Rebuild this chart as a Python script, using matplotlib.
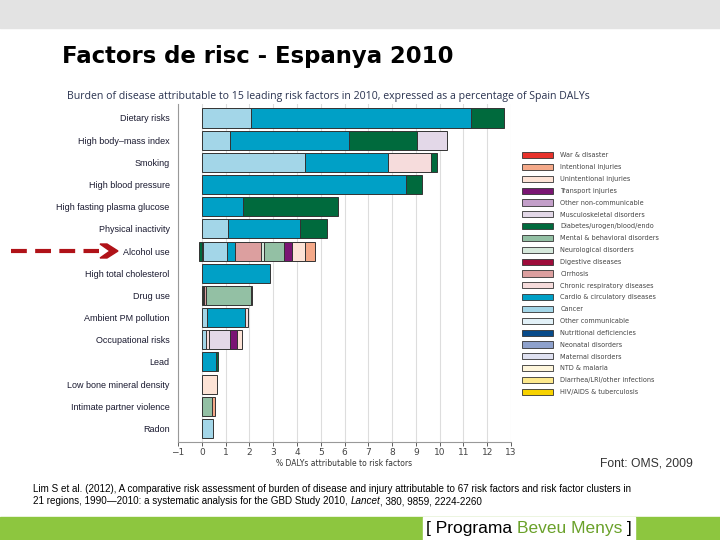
import matplotlib
matplotlib.use("Agg")
import matplotlib.pyplot as plt
from matplotlib.patches import Patch, Rectangle, Polygon
from matplotlib.lines import Line2D

W, H = 720, 540


def px(x, y):
    # pixel coords (from top-left) to figure fraction
    return x / W, 1 - y / H


# risk factors, top to bottom
risks = ["Dietary risks", "High body\u2013mass index", "Smoking", "High blood pressure",
         "High fasting plasma glucose", "Physical inactivity", "Alcohol use",
         "High total cholesterol", "Drug use", "Ambient PM pollution", "Occupational risks",
         "Lead", "Low bone mineral density", "Intimate partner violence", "Radon"]

# causes in legend order (top to bottom) and their colours
causes = ["War & disaster", "Intentional injuries", "Unintentional injuries", "Transport injuries",
          "Other non-communicable", "Musculoskeletal disorders", "Diabetes/urogen/blood/endo",
          "Mental & behavioral disorders", "Neurological disorders", "Digestive diseases",
          "Cirrhosis", "Chronic respiratory diseases", "Cardio & circulatory diseases", "Cancer",
          "Other communicable", "Nutritional deficiencies", "Neonatal disorders",
          "Maternal disorders", "NTD & malaria", "Diarrhea/LRI/other infections",
          "HIV/AIDS & tuberculosis"]
colors = ["#e8322b", "#f4a989", "#fde3d6", "#7a1573", "#c39fc9", "#e3d8e8", "#006a3d",
          "#93c0a4", "#d6e9dc", "#9e0c3b", "#dc9f9f", "#f6dcdc", "#00a0c6", "#a3d6e8",
          "#e2f1f8", "#084b8a", "#8ea1cc", "#dfe1f1", "#fef6dc", "#fde98c", "#f7d200"]

# % of Spain DALYs per cause
dietary = {"Cancer": 2.08, "Cardio & circulatory diseases": 9.25, "Diabetes/urogen/blood/endo": 1.37}
bmi = {"Cancer": 1.2, "Cardio & circulatory diseases": 4.98, "Diabetes/urogen/blood/endo": 2.85,
       "Musculoskeletal disorders": 1.27}
smoking = {"Cancer": 4.32, "Cardio & circulatory diseases": 3.5, "Chronic respiratory diseases": 1.8,
           "Diabetes/urogen/blood/endo": 0.25}
blood_pressure = {"Cardio & circulatory diseases": 8.6, "Diabetes/urogen/blood/endo": 0.65}
glucose = {"Cardio & circulatory diseases": 1.74, "Diabetes/urogen/blood/endo": 4.0}
inactivity = {"Cancer": 1.11, "Cardio & circulatory diseases": 3.02, "Diabetes/urogen/blood/endo": 1.14}
alcohol = {"Diabetes/urogen/blood/endo": -0.1, "Diarrhea/LRI/other infections": 0.05, "Cancer": 1.03,
           "Cardio & circulatory diseases": 0.31, "Cirrhosis": 1.1, "Neurological disorders": 0.14,
           "Mental & behavioral disorders": 0.81, "Transport injuries": 0.36,
           "Unintentional injuries": 0.55, "Intentional injuries": 0.39}
cholesterol = {"Cardio & circulatory diseases": 2.87}
drugs = {"HIV/AIDS & tuberculosis": 0.05, "Cancer": 0.04, "Cirrhosis": 0.08,
         "Mental & behavioral disorders": 1.9, "Intentional injuries": 0.06}
pm = {"Cancer": 0.24, "Cardio & circulatory diseases": 1.58, "Chronic respiratory diseases": 0.12}
occupational = {"Cancer": 0.16, "Chronic respiratory diseases": 0.16, "Musculoskeletal disorders": 0.86,
                "Transport injuries": 0.32, "Unintentional injuries": 0.19}
lead = {"Cardio & circulatory diseases": 0.6, "Diabetes/urogen/blood/endo": 0.1}
bone = {"Unintentional injuries": 0.63}
ipv = {"Mental & behavioral disorders": 0.42, "Intentional injuries": 0.12}
radon = {"Cancer": 0.46}

bars = [dietary, bmi, smoking, blood_pressure, glucose, inactivity, alcohol, cholesterol, drugs,
        pm, occupational, lead, bone, ipv, radon]

fig = plt.figure(figsize=(7.2, 5.4), dpi=100)
fig.patch.set_facecolor("white")

# slide decorations
fig.patches.append(Rectangle(px(0, 28), 1, 28 / H, transform=fig.transFigure, color="#e3e3e3", zorder=0))
fig.patches.append(Rectangle(px(0, 540), 1, 23 / H, transform=fig.transFigure, color="#8dc63f", zorder=0))
fig.patches.append(Rectangle(px(423, 540), 212 / W, 23 / H, transform=fig.transFigure, color="white", zorder=1))

fig.text(*px(62, 56), "Factors de risc - Espanya 2010", fontsize=16.4, fontweight="bold",
         va="center", ha="left", family="DejaVu Sans")
fig.text(*px(67, 96), "Burden of disease attributable to 15 leading risk factors in 2010, "
         "expressed as a percentage of Spain DALYs", fontsize=7.6, color="#2a3350",
         va="center", family="Open Sans")

ax = fig.add_axes([178 / W, 1 - 442 / H, 333 / W, 338 / H])
order = causes[::-1]  # stacking order from the left
for i, seg in enumerate(bars):
    pos, neg = 0.0, 0.0
    for c in order:
        if c not in seg:
            continue
        v = seg[c]
        col = colors[causes.index(c)]
        if v >= 0:
            ax.barh(i, v, left=pos, height=0.86, color=col, edgecolor="#333333", linewidth=0.7)
            pos += v
        else:
            ax.barh(i, v, left=neg, height=0.86, color=col, edgecolor="#333333", linewidth=0.7)
            neg += v

ax.set_xlim(-1, 13)
ax.set_ylim(14.61, -0.63)
ax.set_xticks(range(-1, 14))
ax.set_yticks(range(len(risks)))
ax.set_yticklabels(risks, fontsize=6.5, color="#1a1a30", family="Liberation Sans")
ax.tick_params(axis="y", length=0, pad=6)
ax.tick_params(axis="x", labelsize=6.5, colors="#444444", length=3, width=0.6, pad=1.5)
ax.grid(axis="x", color="#dddddd", linewidth=0.8)
ax.set_axisbelow(True)
for s in ["top", "right"]:
    ax.spines[s].set_visible(False)
for s in ["left", "bottom"]:
    ax.spines[s].set_color("#999999")
    ax.spines[s].set_linewidth(0.8)
ax.set_xlabel("% DALYs attributable to risk factors", fontsize=5.5, color="#333333", labelpad=1)

handles = [Patch(facecolor=c, edgecolor="#333333", linewidth=0.6) for c in colors]
fig.legend(handles, causes, loc="upper left", bbox_to_anchor=px(522, 152), frameon=False,
           fontsize=4.7, handlelength=4.75, handleheight=1.1, handletextpad=1.1,
           labelspacing=0.84, borderpad=0, borderaxespad=0, labelcolor="#444444")

# red dashed arrow pointing at alcohol use
fig.lines.append(Line2D([11 / W, 99 / W], [1 - 251 / H] * 2, transform=fig.transFigure,
                        color="#b01218", linewidth=3, linestyle=(0, (3.8, 2.0))))
chevron = [(100, 244), (107, 244), (118, 251), (107, 258), (100, 258), (110, 251)]
fig.patches.append(Polygon([px(x, y) for x, y in chevron], closed=True, transform=fig.transFigure,
                           color="#b01218"))

fig.text(*px(600, 464), "Font: OMS, 2009", fontsize=8.7, color="#333333", va="center",
         family="Liberation Sans")
fig.text(*px(33, 489), "Lim S et al. (2012), A comparative risk assessment of burden of disease and "
         "injury attributable to 67 risk factors and risk factor clusters in",
         fontsize=7.1, va="center", family="Liberation Sans")
t1 = fig.text(*px(33, 501), "21 regions, 1990\u20142010: a systematic analysis for the GBD Study 2010, ",
              fontsize=7.1, va="center", family="Liberation Sans")
t2 = fig.text(0, 0, "Lancet", fontsize=7.1, va="center", style="italic", family="Liberation Sans")
t3 = fig.text(0, 0, ", 380, 9859, 2224-2260", fontsize=7.1, va="center", family="Liberation Sans")

# logo
l1 = fig.text(*px(426, 529), "[ Programa ", fontsize=12.5, va="center", family="Liberation Sans")
l2 = fig.text(0, 0, "Beveu Menys", fontsize=12.5, va="center", color="#6aa12a", family="Liberation Sans")
l3 = fig.text(0, 0, " ]", fontsize=12.5, va="center", family="Liberation Sans")

# chain texts one after another
fig.canvas.draw()
r = fig.canvas.get_renderer()
for a, b in [(t1, t2), (t2, t3), (l1, l2), (l2, l3)]:
    bb = a.get_window_extent(r)
    b.set_position((bb.x1 / W, a.get_position()[1]))
    fig.canvas.draw()

fig.savefig("out.png", dpi=100)
